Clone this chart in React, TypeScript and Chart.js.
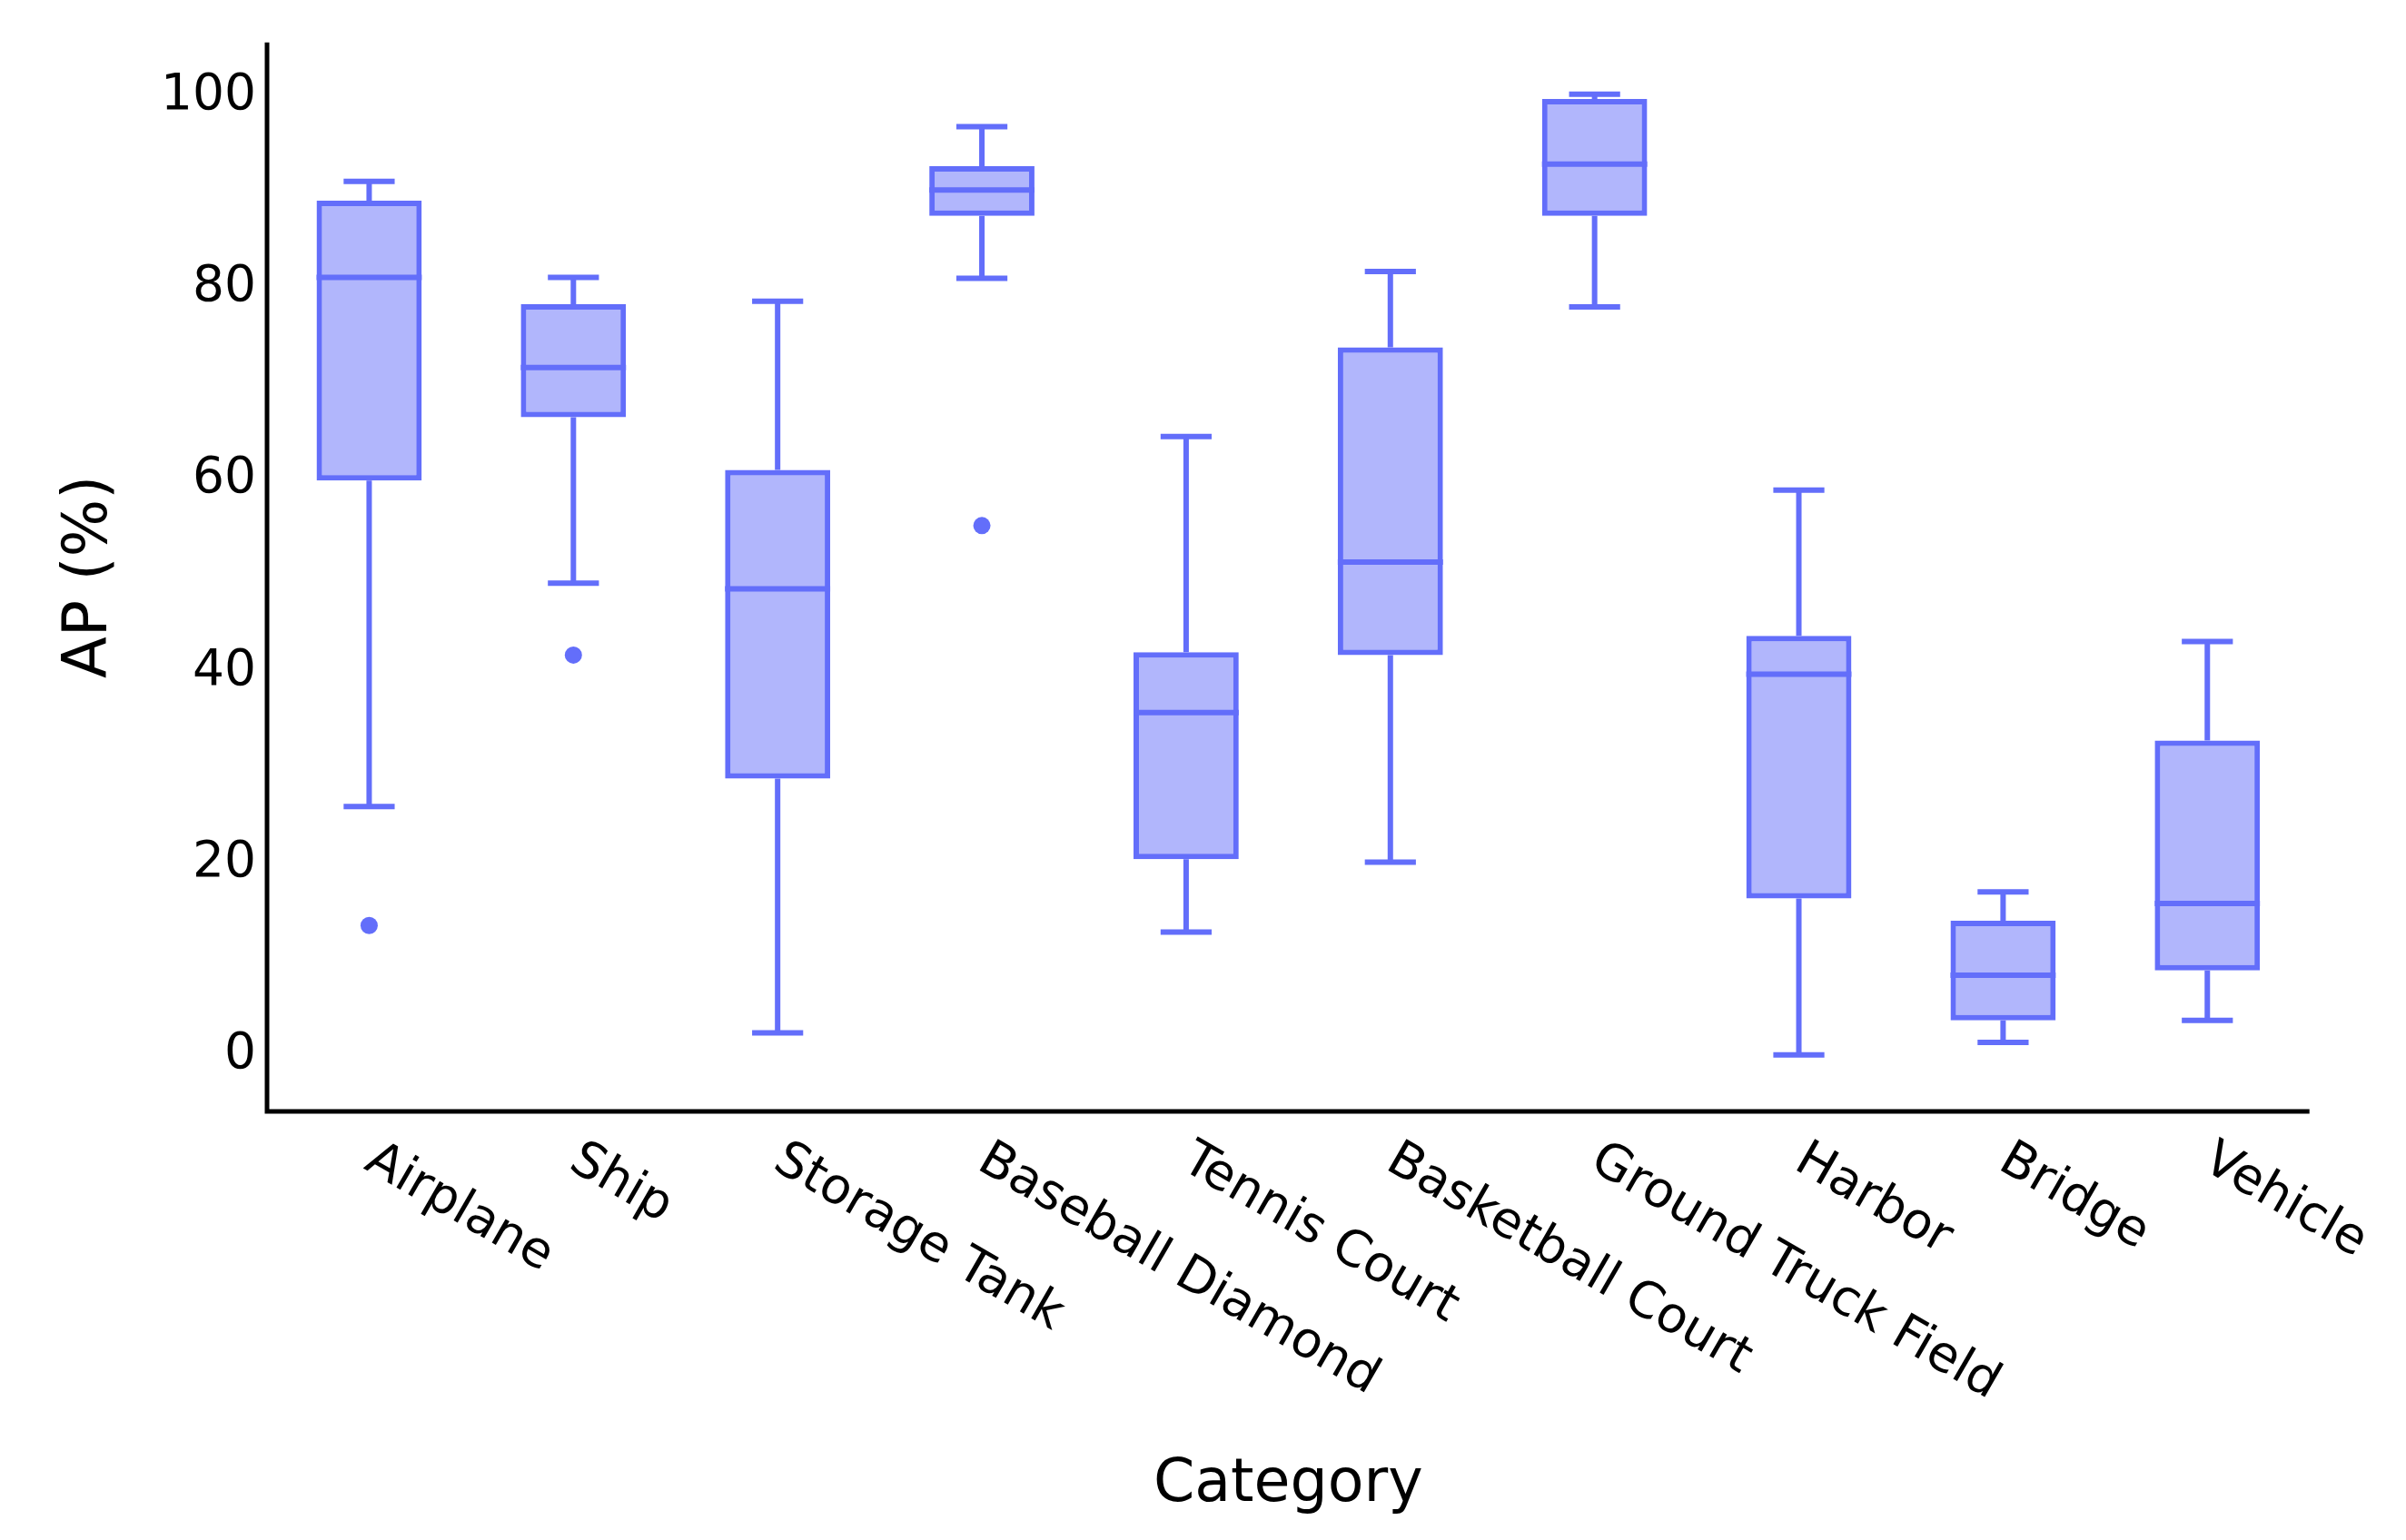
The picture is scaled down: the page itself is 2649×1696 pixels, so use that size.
import React, { useEffect, useRef } from 'react';
import { Chart, registerables } from 'chart.js';

Chart.register(...registerables);

const categories = [
  'Airplane', 'Ship', 'Storage Tank', 'Baseball Diamond', 'Tennis Court',
  'Basketball Court', 'Ground Truck Field', 'Harbor', 'Bridge', 'Vehicle',
];
const whiskerLow = [25.9, 49.2, 2.3, 81.0, 12.8, 20.1, 78.0, 0.0, 1.3, 3.6];
const q1 = [59.9, 66.5, 28.8, 87.5, 20.4, 41.7, 87.5, 16.3, 3.6, 8.8];
const median = [81.1, 71.7, 48.6, 90.2, 35.7, 51.4, 92.9, 39.7, 8.3, 15.8];
const q3 = [89.1, 78.3, 61.0, 92.7, 42.0, 73.8, 99.7, 43.7, 14.0, 32.8];
const whiskerHigh = [91.1, 81.1, 78.6, 96.8, 64.5, 81.7, 100.2, 58.9, 17.0, 43.1];
const outliers: (number | null)[] = [13.5, 41.7, null, 55.2, null, null, null, null, null, null];
const yTicks = [0, 20, 40, 60, 80, 100];

const STROKE = '#636EFA';
const FILL = 'rgba(99,110,250,0.5)';
const FONT = "'DejaVu Sans', Verdana, sans-serif";
const LW = 6;
const AXIS_LW = 5;
const BOX_FRAC = 0.515;
const CAP_FRAC = 0.25;

const boxPlugin = {
  id: 'boxParts',
  beforeDatasetsDraw(chart: any) {
    const { ctx, scales } = chart;
    const x = scales.x;
    const y = scales.y;
    const band = x.getPixelForValue(1) - x.getPixelForValue(0);
    const capHalf = (band * CAP_FRAC) / 2;
    ctx.save();
    ctx.strokeStyle = STROKE;
    ctx.lineWidth = LW;
    ctx.lineCap = 'butt';
    categories.forEach((_, i) => {
      const cx = x.getPixelForValue(i);
      const yHi = y.getPixelForValue(whiskerHigh[i]);
      const yQ3 = y.getPixelForValue(q3[i]);
      const yQ1 = y.getPixelForValue(q1[i]);
      const yLo = y.getPixelForValue(whiskerLow[i]);
      ctx.beginPath();
      ctx.moveTo(cx, yQ3);
      ctx.lineTo(cx, yHi);
      ctx.moveTo(cx, yQ1);
      ctx.lineTo(cx, yLo);
      ctx.moveTo(cx - capHalf, yHi);
      ctx.lineTo(cx + capHalf, yHi);
      ctx.moveTo(cx - capHalf, yLo);
      ctx.lineTo(cx + capHalf, yLo);
      ctx.stroke();
    });
    ctx.restore();
  },
  afterDatasetsDraw(chart: any) {
    const { ctx, scales } = chart;
    const x = scales.x;
    const y = scales.y;
    const band = x.getPixelForValue(1) - x.getPixelForValue(0);
    const half = (band * BOX_FRAC) / 2;
    ctx.save();
    ctx.strokeStyle = STROKE;
    ctx.lineWidth = LW;
    categories.forEach((_, i) => {
      const cx = x.getPixelForValue(i);
      const ym = y.getPixelForValue(median[i]);
      ctx.beginPath();
      ctx.moveTo(cx - half, ym);
      ctx.lineTo(cx + half, ym);
      ctx.stroke();
    });
    ctx.restore();
  },
  afterDraw(chart: any) {
    const { ctx, chartArea, scales } = chart;
    const x = scales.x;
    ctx.save();
    // axis lines
    ctx.strokeStyle = '#000';
    ctx.lineWidth = AXIS_LW;
    ctx.beginPath();
    ctx.moveTo(chartArea.left, chartArea.top);
    ctx.lineTo(chartArea.left, chartArea.bottom + AXIS_LW / 2);
    ctx.moveTo(chartArea.left - AXIS_LW / 2, chartArea.bottom);
    ctx.lineTo(chartArea.right, chartArea.bottom);
    ctx.stroke();
    // rotated category labels
    ctx.fillStyle = '#000';
    ctx.font = `55px ${FONT}`;
    ctx.textAlign = 'left';
    ctx.textBaseline = 'middle';
    categories.forEach((label, i) => {
      const px = x.getPixelForValue(i);
      ctx.save();
      ctx.translate(px, chartArea.bottom + 50);
      ctx.rotate((30 * Math.PI) / 180);
      ctx.fillText(label, 0, 0);
      ctx.restore();
    });
    ctx.restore();
  },
};

export default function App() {
  const canvasRef = useRef<HTMLCanvasElement | null>(null);

  useEffect(() => {
    document.body.style.margin = '0';
    const canvas = canvasRef.current;
    if (!canvas) return;
    const chart = new Chart(canvas, {
      type: 'bar',
      data: {
        labels: categories,
        datasets: [
          {
            type: 'bar',
            label: 'AP',
            data: categories.map((_, i) => [q1[i], q3[i]]) as any,
            backgroundColor: FILL,
            borderColor: STROKE,
            borderWidth: LW,
            borderSkipped: false,
            barPercentage: BOX_FRAC,
            categoryPercentage: 1,
            order: 2,
          } as any,
          {
            type: 'line',
            label: 'Outliers',
            data: outliers as any,
            showLine: false,
            pointRadius: 9.5,
            pointBackgroundColor: STROKE,
            pointBorderColor: STROKE,
            pointBorderWidth: 0,
            order: 1,
          } as any,
        ],
      },
      options: {
        responsive: false,
        animation: false,
        devicePixelRatio: 1,
        layout: { padding: { top: 46.7, right: 106.3, left: 0, bottom: 0 } },
        plugins: {
          legend: { display: false },
          tooltip: { enabled: false },
        },
        scales: {
          x: {
            type: 'category',
            offset: true,
            grid: { display: false, drawTicks: false },
            border: { display: false },
            ticks: { display: false },
            title: {
              display: true,
              text: 'Category',
              color: '#000',
              font: { family: FONT, size: 65 },
              padding: { top: 0, bottom: 21 },
            },
            afterFit: (s: any) => {
              s.height = 472;
            },
          },
          y: {
            type: 'linear',
            min: -5.9,
            max: 105.6,
            afterBuildTicks: (s: any) => {
              s.ticks = yTicks.map((v) => ({ value: v }));
            },
            grid: { display: false, drawTicks: false },
            border: { display: false },
            ticks: {
              color: '#000',
              font: { family: FONT, size: 55 },
              padding: 12,
            },
            title: {
              display: true,
              text: 'AP (%)',
              color: '#000',
              font: { family: FONT, size: 67 },
              padding: { top: 59, bottom: 0 },
            },
            afterFit: (s: any) => {
              s.width = 294;
            },
          },
        },
      } as any,
      plugins: [boxPlugin],
    });
    return () => chart.destroy();
  }, []);

  return (
    <div style={{ width: 2649, height: 1696, background: '#fff' }}>
      <canvas ref={canvasRef} width={2649} height={1696} style={{ display: 'block' }} />
    </div>
  );
}
